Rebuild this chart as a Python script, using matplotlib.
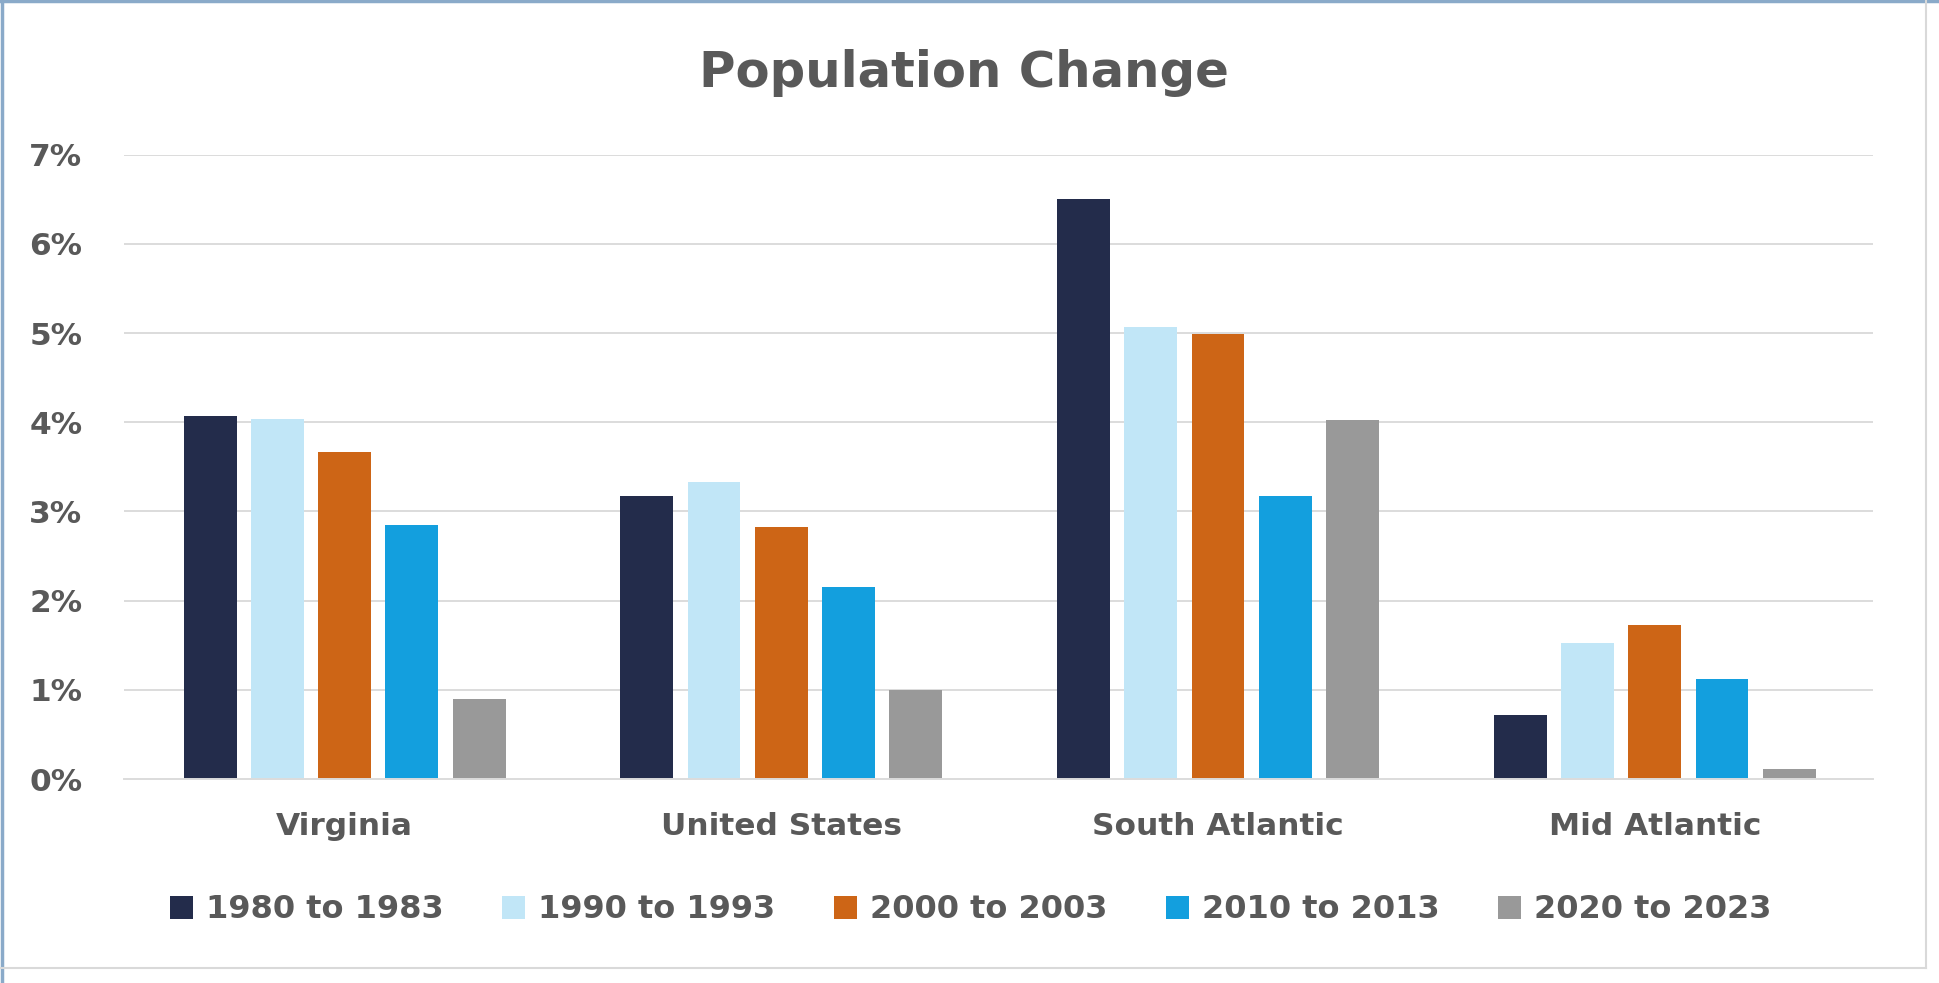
import matplotlib
matplotlib.use("Agg")
import matplotlib.pyplot as plt
from matplotlib.patches import Patch
import numpy as np

plt.rcParams['font.family'] = ['DejaVu Sans']
plt.rcParams['font.weight'] = 'bold'

regions = ['Virginia', 'United States', 'South Atlantic', 'Mid Atlantic']
periods = ['1980 to 1983', '1990 to 1993', '2000 to 2003', '2010 to 2013', '2020 to 2023']
colors = ['#232C4B', '#C1E6F7', '#CD6516', '#139FDE', '#999999']

# percent change per period, one list per region order above
p1980 = [4.07, 3.17, 6.50, 0.72]
p1990 = [4.04, 3.33, 5.07, 1.52]
p2000 = [3.67, 2.82, 4.99, 1.73]
p2010 = [2.85, 2.15, 3.17, 1.12]
p2020 = [0.90, 1.00, 4.03, 0.11]
series = [p1980, p1990, p2000, p2010, p2020]

text_col = '#595959'
grid_col = '#DCDCDC'

fig = plt.figure(figsize=(19.39, 9.83), dpi=100)
fig.patch.set_facecolor('white')
ax = fig.add_axes([0.0640, 0.2075, 0.9020, 0.6352])

x = np.arange(len(regions))
step = 0.154
width = 0.121
for i, vals in enumerate(series):
    ax.bar(x + (i - 2) * step, vals, width, color=colors[i], label=periods[i], zorder=3)

ax.set_xlim(-0.505, 3.5)
ax.set_ylim(0, 7)
ax.set_yticks(range(0, 8))
ax.set_yticklabels([f'{v}%' for v in range(0, 8)])
ax.set_xticks(x)
ax.set_xticklabels(regions)
ax.yaxis.grid(True, color=grid_col, linewidth=1.4, zorder=0)
ax.tick_params(axis='both', length=0, colors=text_col)
ax.tick_params(axis='y', pad=30, labelsize=22.5)
ax.tick_params(axis='x', pad=24, labelsize=22.5)
for s in ['top', 'right', 'left']:
    ax.spines[s].set_visible(False)
ax.spines['bottom'].set_color(grid_col)
ax.spines['bottom'].set_linewidth(1.4)
ax.spines['bottom'].set_zorder(4)

fig.text(0.497, 0.9118, 'Population Change', ha='center', va='baseline',
         fontsize=35.8, fontweight='bold', color=text_col)

handles = [Patch(facecolor=c, edgecolor='none') for c in colors]
leg = fig.legend(handles, periods, loc='center', bbox_to_anchor=(0.5007, 0.0743),
                 ncol=5, frameon=False, fontsize=23, handlelength=0.72, handleheight=0.72,
                 handletextpad=0.4, columnspacing=1.84, borderpad=0)
for t in leg.get_texts():
    t.set_color(text_col)

# chart border: blue-ish on left/top, light gray on right/bottom
fig.add_artist(plt.Line2D([0.0008, 0.0008], [0, 1], color='#8AAAC9', linewidth=2.5))
fig.add_artist(plt.Line2D([0, 1], [0.9985, 0.9985], color='#8AAAC9', linewidth=2.5))
fig.add_artist(plt.Line2D([1926 / 1939, 1926 / 1939], [1 - 968 / 983, 1], color='#D9D9D9', linewidth=1.5))
fig.add_artist(plt.Line2D([0, 1926 / 1939], [1 - 968 / 983, 1 - 968 / 983], color='#D9D9D9', linewidth=1.5))

fig.savefig('out.png', dpi=100)
